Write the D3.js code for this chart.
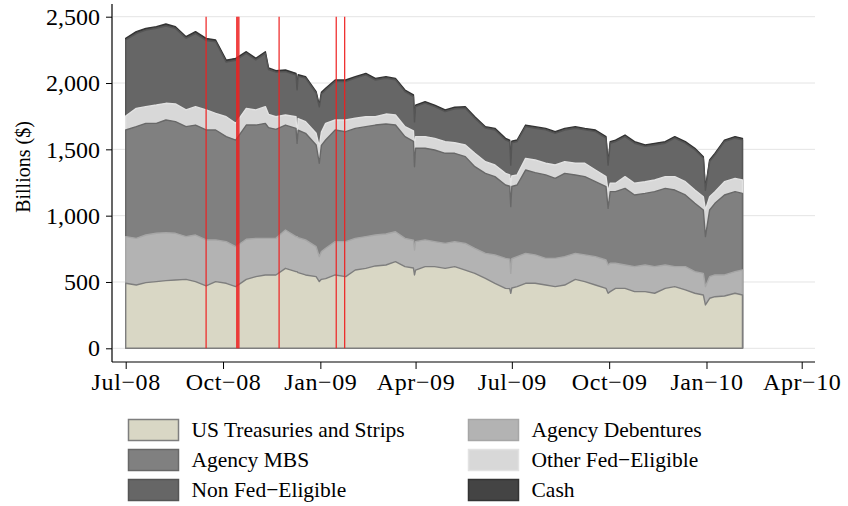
<!DOCTYPE html>
<html>
<head>
<meta charset="utf-8">
<script src="https://cdn.jsdelivr.net/npm/d3@7"></script>
<style>
  body { margin: 0; background: #fff; }
  svg text { font-family: "Liberation Serif", "Times New Roman", serif; fill: #000; }
</style>
</head>
<body>
<script>
// collateral pledged, billions of dollars
var dates = [
  "2008-07-01","2008-07-11","2008-07-20","2008-07-30","2008-08-08","2008-08-17","2008-08-27","2008-09-05","2008-09-15","2008-09-24",
  "2008-10-04","2008-10-13","2008-10-23","2008-11-01","2008-11-10","2008-11-13","2008-11-20","2008-11-29","2008-12-09","2008-12-10",
  "2008-12-11","2008-12-18","2008-12-28","2008-12-31","2009-01-02","2009-01-06","2009-01-15","2009-01-25","2009-02-03","2009-02-13",
  "2009-02-22","2009-03-04","2009-03-13","2009-03-22","2009-03-30","2009-03-31","2009-04-01","2009-04-10","2009-04-19","2009-04-29",
  "2009-05-08","2009-05-18","2009-05-27","2009-06-06","2009-06-15","2009-06-25","2009-06-29","2009-06-30","2009-07-01","2009-07-06",
  "2009-07-14","2009-07-23","2009-08-02","2009-08-11","2009-08-20","2009-08-30","2009-09-08","2009-09-18","2009-09-28","2009-09-30",
  "2009-10-02","2009-10-07","2009-10-16","2009-10-25","2009-11-04","2009-11-13","2009-11-23","2009-12-02","2009-12-12","2009-12-21",
  "2009-12-29","2009-12-31","2010-01-04","2010-01-09","2010-01-18","2010-01-28","2010-02-04"
];

var treasuries = [
  490, 477, 495, 503, 510, 515, 520, 503, 470, 503,
  490, 465, 520, 540, 553, 553, 553, 603, 578, 578,
  570, 553, 540, 503, 520, 525, 553, 540, 590, 603,
  621, 628, 653, 616, 605, 553, 590, 616, 616, 603,
  616, 590, 565, 528, 490, 452, 450, 415, 455, 465,
  490, 490, 477, 465, 477, 520, 503, 477, 452, 415,
  427, 452, 452, 427, 427, 415, 452, 465, 440, 415,
  402, 327, 377, 389, 394, 415, 402
];

var debentures = [
  352, 352, 359, 364, 362, 352, 322, 351, 347, 314,
  314, 301, 302, 289, 276, 276, 276, 289, 264, 264,
  264, 264, 226, 188, 210, 229, 251, 264, 239, 239,
  233, 234, 226, 213, 210, 188, 214, 201, 188, 188,
  188, 201, 189, 188, 214, 226, 222, 150, 220, 226,
  226, 214, 201, 213, 214, 196, 201, 214, 214, 213,
  214, 189, 176, 189, 201, 201, 176, 151, 176, 163,
  163, 138, 163, 164, 159, 163, 188
];

var mbs = [
  804, 842, 842, 829, 849, 842, 829, 829, 829, 829,
  792, 804, 861, 854, 867, 835, 822, 791, 816, 703,
  810, 804, 767, 704, 800, 816, 842, 829, 829, 829,
  829, 829, 804, 767, 745, 628, 704, 691, 691, 679,
  666, 654, 615, 603, 590, 553, 550, 503, 545, 540,
  628, 620, 629, 603, 628, 591, 590, 565, 553, 427,
  540, 540, 578, 540, 540, 565, 578, 577, 540, 515,
  478, 377, 503, 540, 603, 603, 578
];

var otherFed = [
  105, 138, 126, 138, 126, 133, 126, 139, 151, 125,
  150, 126, 126, 114, 126, 100,  95,  76,  88,  25,
   88,  88,  88, 125, 100, 126,  75,  88,  76,  75,
   63,  75,  76,  75,  80, 126,  88,  88,  88,  88,
   80,  88, 101,  88,  88,  88,  85, 163,  80,  76,
   88,  96,  88, 101,  88,  88, 101,  88,  75, 126,
   63,  63,  88,  88,  88,  88,  88, 101, 100, 100,
  100, 201, 100,  88, 100, 100, 101
];

var nonFed = [
  574, 564, 577, 579, 583, 570, 540, 551, 524, 540,
  412, 476, 415, 377, 401, 338, 336, 327, 314, 378,
  318, 328, 302, 300, 288, 251, 290, 290, 303, 315,
  276, 270, 265, 264, 258, 212, 226, 252, 239, 227,
  256, 277, 264, 253, 264, 252, 250, 150, 250, 252,
  239, 239, 252, 239, 239, 264, 252, 290, 290, 200,
  302, 315, 302, 302, 266, 264, 252, 291, 290, 303,
  290, 149, 265, 277, 303, 303, 302
];

var cash = [
  12, 14, 13, 12, 15, 13, 12, 14, 16, 13,
  15, 14, 12, 12, 13, 12, 11, 12, 13, 12,
  12, 11, 12, 14, 12, 13, 12, 12, 11, 12,
  13, 12, 11, 12, 12, 14, 12, 11, 12, 12,
  11, 12, 12, 11, 12, 12, 12, 14, 12, 11,
  12, 12, 11, 12, 12, 12, 11, 12, 12, 14,
  12, 11, 12, 12, 11, 12, 12, 11, 12, 12,
  12, 14, 12, 12, 11, 12, 12
];

var seriesKeys = ["treasuries", "debentures", "mbs", "otherFed", "nonFed", "cash"];
var seriesLabels = ["US Treasuries and Strips", "Agency Debentures", "Agency MBS", "Other Fed\u2212Eligible", "Non Fed\u2212Eligible", "Cash"];
var fills   = ["#d9d7c5", "#b3b3b3", "#808080", "#d8d8d8", "#666666", "#444444"];
var strokes = ["#7e7e7e", "#a6a6a6", "#686868", "#e2e2e2", "#555555", "#333333"];

var yTicks = [0, 500, 1000, 1500, 2000, 2500];
var xTicks = ["2008-07-01","2008-10-01","2009-01-01","2009-04-01","2009-07-01","2009-10-01","2010-01-01","2010-04-01"];
var eventDates = ["2008-09-15","2008-10-14","2008-10-15","2008-10-16","2008-11-23","2009-01-16","2009-01-24"];

var legendOrder = ["treasuries", "debentures", "mbs", "otherFed", "nonFed", "cash"];

(function() {
    var W = 848, H = 506;
    var parse = d3.utcParse("%Y-%m-%d");
    var cols = { treasuries: treasuries, debentures: debentures, mbs: mbs, otherFed: otherFed, nonFed: nonFed, cash: cash };

    var rows = dates.map(function(s, i) {
        var r = { date: parse(s) };
        seriesKeys.forEach(function(k) { r[k] = cols[k][i]; });
        return r;
    });

    var x = d3.scaleUtc()
        .domain([parse("2008-07-01"), parse("2010-04-01")])
        .range([125.7, 801.7]);
    var y = d3.scaleLinear()
        .domain([0, 2500])
        .range([348.3, 16.7]);

    var svg = d3.select("body").append("svg")
        .attr("width", W)
        .attr("height", H);

    // gridlines
    svg.append("g").selectAll("line")
        .data(yTicks)
        .enter().append("line")
            .attr("x1", 113).attr("x2", 815)
            .attr("y1", function(d) { return y(d); })
            .attr("y2", function(d) { return y(d); })
            .attr("stroke", "#e4e4e4")
            .attr("stroke-width", 1);

    // stacked areas, drawn top layer first so lower ones overlay
    var stacked = d3.stack().keys(seriesKeys)(rows);
    var area = d3.area()
        .x(function(d) { return x(d.data.date); })
        .y0(y(0))
        .y1(function(d) { return y(d[1]); });

    svg.append("g").selectAll("path")
        .data(stacked.slice().reverse())
        .enter().append("path")
            .attr("d", area)
            .attr("fill", function(d) { return fills[d.index]; })
            .attr("stroke", function(d) { return strokes[d.index]; })
            .attr("stroke-width", 1.4)
            .attr("stroke-linejoin", "round");

    // event lines
    svg.append("g").selectAll("line")
        .data(eventDates)
        .enter().append("line")
            .attr("x1", function(d) { return x(parse(d)); })
            .attr("x2", function(d) { return x(parse(d)); })
            .attr("y1", y(0)).attr("y2", y(2500))
            .attr("stroke", "#ee2020")
            .attr("stroke-width", 1.2);

    // y axis
    var yAxis = d3.axisLeft(y)
        .tickValues(yTicks)
        .tickFormat(d3.format(","))
        .tickSize(6)
        .tickPadding(6);
    var gy = svg.append("g")
        .attr("transform", "translate(112,0)")
        .call(yAxis);
    gy.select(".domain").remove();
    gy.selectAll("line").attr("stroke", "#000");
    gy.selectAll("text")
        .style("font-size", "24px")
        .attr("font-family", null);
    svg.append("line")
        .attr("x1", 112).attr("x2", 112)
        .attr("y1", 4).attr("y2", 362)
        .attr("stroke", "#000").attr("stroke-width", 1.2);

    // x axis
    var fmt = d3.utcFormat("%b");
    var fmtY = d3.utcFormat("%y");
    var xAxis = d3.axisBottom(x)
        .tickValues(xTicks.map(parse))
        .tickFormat(function(d) { return fmt(d) + "\u2212" + fmtY(d); })
        .tickSize(7)
        .tickPadding(4);
    var gx = svg.append("g")
        .attr("transform", "translate(0,362)")
        .call(xAxis);
    gx.select(".domain").remove();
    gx.selectAll("line").attr("stroke", "#000");
    gx.selectAll("text")
        .style("font-size", "24px")
        .style("letter-spacing", "0.6px")
        .attr("font-family", null);
    svg.append("line")
        .attr("x1", 112).attr("x2", 815)
        .attr("y1", 362).attr("y2", 362)
        .attr("stroke", "#000").attr("stroke-width", 1.2);

    svg.append("text")
        .attr("transform", "translate(30,167) rotate(-90)")
        .attr("text-anchor", "middle")
        .style("font-size", "20px")
        .text("Billions ($)");

    // legend, two columns
    var lg = svg.append("g").selectAll("g")
        .data(legendOrder)
        .enter().append("g")
            .attr("transform", function(d, i) {
                var col = i % 2, row = Math.floor(i / 2);
                return "translate(" + (col ? 468.5 : 128.5) + "," + (419.5 + row * 30) + ")";
            });
    lg.append("rect")
        .attr("width", 50).attr("height", 21)
        .attr("fill", function(d) { return fills[seriesKeys.indexOf(d)]; })
        .attr("stroke", function(d) { return strokes[seriesKeys.indexOf(d)]; })
        .attr("stroke-width", 1.5);
    lg.append("text")
        .attr("x", 63).attr("y", 17)
        .style("font-size", "21.5px")
        .text(function(d) { return seriesLabels[seriesKeys.indexOf(d)]; });
})();
</script>
</body>
</html>
